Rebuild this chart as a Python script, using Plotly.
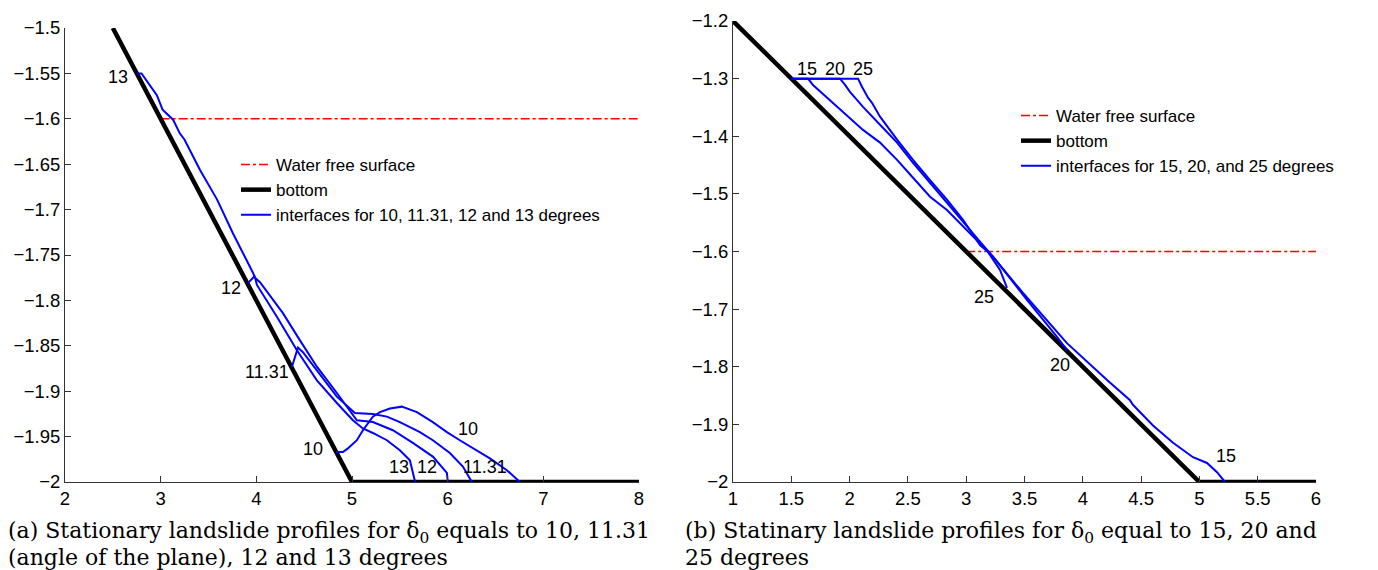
import plotly.graph_objects as go

# ---------------- Panel (a) data ----------------
bottom_a_x = [2.5, 5.0, 8.0]
bottom_a_y = [-1.5, -2.0, -2.0]
water_a_x = [3.0, 8.0]
water_a_y = [-1.6, -1.6]

i13_x = [2.75, 2.80, 2.96, 3.02, 3.13, 3.20, 3.25, 3.41, 3.59, 3.755, 3.933, 3.985,
         4.006, 4.215, 4.424, 4.633, 4.842, 5.009, 5.114, 5.218, 5.365, 5.50, 5.605, 5.657, 5.66]
i13_y = [-1.55, -1.55, -1.574, -1.590, -1.601, -1.616, -1.623, -1.656, -1.689, -1.726, -1.763, -1.774,
         -1.783, -1.818, -1.855, -1.888, -1.913, -1.932, -1.941, -1.946, -1.954, -1.965, -1.976, -1.996, -2.0]

i12_x = [3.912, 3.975, 4.038, 4.278, 4.456, 4.633, 4.842, 5.051, 5.218, 5.427, 5.636, 5.845, 5.992, 6.002]
i12_y = [-1.781, -1.774, -1.780, -1.814, -1.844, -1.873, -1.902, -1.932, -1.934, -1.943, -1.957, -1.972, -1.990, -2.0]

i1131_x = [4.372, 4.435, 4.487, 4.633, 4.842, 5.030, 5.218, 5.365, 5.50, 5.71, 5.845, 6.023, 6.159, 6.253]
i1131_y = [-1.873, -1.852, -1.857, -1.877, -1.906, -1.924, -1.925, -1.928, -1.934, -1.945, -1.954, -1.968, -1.983, -2.0]

i10_x = [4.832, 4.905, 4.957, 5.051, 5.114, 5.218, 5.292, 5.396, 5.521, 5.678, 5.845, 5.992,
         6.127, 6.263, 6.441, 6.619, 6.755]
i10_y = [-1.967, -1.967, -1.963, -1.954, -1.943, -1.928, -1.923, -1.919, -1.917, -1.923, -1.934, -1.945,
         -1.954, -1.963, -1.974, -1.987, -2.0]

labels_a_text = ["13", "12", "11.31", "10", "10", "13", "12", "11.31"]
labels_a_x = [2.55, 3.735, 4.11, 4.59, 6.21, 5.49, 5.783, 6.389]
labels_a_y = [-1.554, -1.786, -1.879, -1.964, -1.942, -1.983, -1.983, -1.983]

xticks_a = [2, 3, 4, 5, 6, 7, 8]
yticks_a = [-2.0, -1.95, -1.9, -1.85, -1.8, -1.75, -1.7, -1.65, -1.6, -1.55, -1.5]
yticklabels_a = ["\u22122", "\u22121.95", "\u22121.9", "\u22121.85", "\u22121.8", "\u22121.75",
                 "\u22121.7", "\u22121.65", "\u22121.6", "\u22121.55", "\u22121.5"]

# ---------------- Panel (b) data ----------------
bottom_b_x = [1.0, 5.0, 6.0]
bottom_b_y = [-1.2, -2.0, -2.0]
water_b_x = [3.0, 6.0]
water_b_y = [-1.6, -1.6]

i15_x = [1.5, 1.643, 1.686, 1.832, 1.978, 2.115, 2.261, 2.407, 2.544, 2.690, 2.835, 3.007, 3.144, 3.230,
         3.487, 3.864, 4.208, 4.405, 4.430, 4.602, 4.774, 4.945, 5.065, 5.151, 5.22]
i15_y = [-1.3, -1.3, -1.311, -1.337, -1.363, -1.389, -1.411, -1.441, -1.472, -1.505, -1.528, -1.563, -1.592, -1.609,
         -1.672, -1.759, -1.823, -1.858, -1.866, -1.902, -1.932, -1.957, -1.967, -1.983, -2.0]

i20_x = [1.5, 1.918, 1.961, 2.003, 2.063, 2.115, 2.261, 2.407, 2.544, 2.690, 2.835, 2.973, 3.118, 3.230,
         3.521, 3.779, 3.864]
i20_y = [-1.3, -1.3, -1.311, -1.323, -1.337, -1.349, -1.380, -1.411, -1.446, -1.481, -1.516, -1.550, -1.583, -1.609,
         -1.684, -1.748, -1.771]

i25_x = [1.5, 2.072, 2.106, 2.158, 2.192, 2.261, 2.407, 2.544, 2.690, 2.835, 2.973, 3.118, 3.187, 3.290, 3.350]
i25_y = [-1.3, -1.3, -1.314, -1.333, -1.342, -1.366, -1.406, -1.441, -1.476, -1.510, -1.545, -1.589, -1.601, -1.632, -1.663]

labels_b_text = ["15", "20", "25", "25", "20", "15"]
labels_b_x = [1.635, 1.875, 2.115, 3.153, 3.805, 5.228]
labels_b_y = [-1.283, -1.283, -1.283, -1.679, -1.797, -1.955]

xticks_b = [1, 1.5, 2, 2.5, 3, 3.5, 4, 4.5, 5, 5.5, 6]
xticklabels_b = ["1", "1.5", "2", "2.5", "3", "3.5", "4", "4.5", "5", "5.5", "6"]
yticks_b = [-2.0, -1.9, -1.8, -1.7, -1.6, -1.5, -1.4, -1.3, -1.2]
yticklabels_b = ["\u22122", "\u22121.9", "\u22121.8", "\u22121.7", "\u22121.6", "\u22121.5",
                 "\u22121.4", "\u22121.3", "\u22121.2"]

caption_a = ["(a) Stationary landslide profiles for \u03b4<sub>0</sub> equals to 10, 11.31",
             "(angle of the plane), 12 and 13 degrees"]
caption_b = ["(b) Statinary landslide profiles for \u03b4<sub>0</sub> equal to 15, 20 and",
             "25 degrees"]

# ---------------- Figure ----------------
OFF = 8                      # page body margin in the browser
W, H = 1378 - OFF, 570 - OFF
SANS = "Liberation Sans, Arial, Helvetica, sans-serif"
SERIF = "DejaVu Serif, serif"
BLUE = "#0000ff"
RED = "#ff0000"


def px(p):
    """page pixel x -> paper fraction"""
    return (p - OFF) / W


def py(p):
    """page pixel y -> paper fraction"""
    return (H - (p - OFF)) / H


fig = go.Figure()

# Panel (a)
fig.add_trace(go.Scatter(x=water_a_x, y=water_a_y, mode="lines", name="Water free surface",
                         line=dict(color=RED, width=1.5, dash="dashdot"),
                         xaxis="x", yaxis="y", legend="legend"))
fig.add_trace(go.Scatter(x=bottom_a_x, y=bottom_a_y, mode="lines", name="bottom",
                         line=dict(color="black", width=4.5),
                         xaxis="x", yaxis="y", legend="legend"))
first = True
for xs, ys in [(i10_x, i10_y), (i1131_x, i1131_y), (i12_x, i12_y), (i13_x, i13_y)]:
    fig.add_trace(go.Scatter(x=xs, y=ys, mode="lines",
                             name="interfaces for 10, 11.31, 12 and 13 degrees",
                             showlegend=first, line=dict(color=BLUE, width=2),
                             xaxis="x", yaxis="y", legend="legend"))
    first = False

# Panel (b)
fig.add_trace(go.Scatter(x=water_b_x, y=water_b_y, mode="lines", name="Water free surface",
                         line=dict(color=RED, width=1.5, dash="dashdot"),
                         xaxis="x2", yaxis="y2", legend="legend2"))
fig.add_trace(go.Scatter(x=bottom_b_x, y=bottom_b_y, mode="lines", name="bottom",
                         line=dict(color="black", width=4.5),
                         xaxis="x2", yaxis="y2", legend="legend2"))
first = True
for xs, ys in [(i15_x, i15_y), (i20_x, i20_y), (i25_x, i25_y)]:
    fig.add_trace(go.Scatter(x=xs, y=ys, mode="lines",
                             name="interfaces for 15, 20, and 25 degrees",
                             showlegend=first, line=dict(color=BLUE, width=2),
                             xaxis="x2", yaxis="y2", legend="legend2"))
    first = False

annotations = []
for t, x, y in zip(labels_a_text, labels_a_x, labels_a_y):
    annotations.append(dict(x=x, y=y, xref="x", yref="y", text=t, showarrow=False,
                            font=dict(family=SANS, size=18, color="black")))
for t, x, y in zip(labels_b_text, labels_b_x, labels_b_y):
    annotations.append(dict(x=x, y=y, xref="x2", yref="y2", text=t, showarrow=False,
                            font=dict(family=SANS, size=18, color="black")))

for i, line in enumerate(caption_a):
    annotations.append(dict(x=px(6), y=py(532 + 25 * i), xref="paper", yref="paper",
                            text=line, showarrow=False, xanchor="left", yanchor="middle",
                            font=dict(family=SERIF, size=22, color="black")))
for i, line in enumerate(caption_b):
    annotations.append(dict(x=px(683), y=py(532 + 25 * i), xref="paper", yref="paper",
                            text=line, showarrow=False, xanchor="left", yanchor="middle",
                            font=dict(family=SERIF, size=22, color="black")))

axis_common = dict(showgrid=False, zeroline=False, showline=True, linecolor="#333", linewidth=1,
                   ticks="inside", ticklen=6, tickcolor="#333", mirror=False, automargin=False,
                   tickfont=dict(family=SANS, size=18.5, color="black"))

fig.update_layout(
    width=W, height=H,
    margin=dict(l=0, r=0, t=0, b=0, autoexpand=False),
    paper_bgcolor="white", plot_bgcolor="white",
    xaxis=dict(domain=[px(65), px(639)], range=[2, 8], tickvals=xticks_a,
               anchor="y", **axis_common),
    yaxis=dict(domain=[py(482), py(28)], range=[-2, -1.5],
               tickvals=yticks_a, ticktext=yticklabels_a, anchor="x", **axis_common),
    xaxis2=dict(domain=[px(733), px(1316)], range=[1, 6], tickvals=xticks_b,
                ticktext=xticklabels_b, anchor="y2", **axis_common),
    yaxis2=dict(domain=[py(482), py(21)], range=[-2, -1.2],
                tickvals=yticks_b, ticktext=yticklabels_b, anchor="x2", **axis_common),
    legend=dict(x=px(236), y=py(147), xanchor="left", yanchor="top",
                bgcolor="rgba(0,0,0,0)", font=dict(family=SANS, size=17, color="black"),
                tracegroupgap=0, itemwidth=30),
    legend2=dict(x=px(1016), y=py(98), xanchor="left", yanchor="top",
                 bgcolor="rgba(0,0,0,0)", font=dict(family=SANS, size=17, color="black"),
                 tracegroupgap=0, itemwidth=30),
    annotations=annotations,
    showlegend=True,
)

fig.write_html("out.html")
